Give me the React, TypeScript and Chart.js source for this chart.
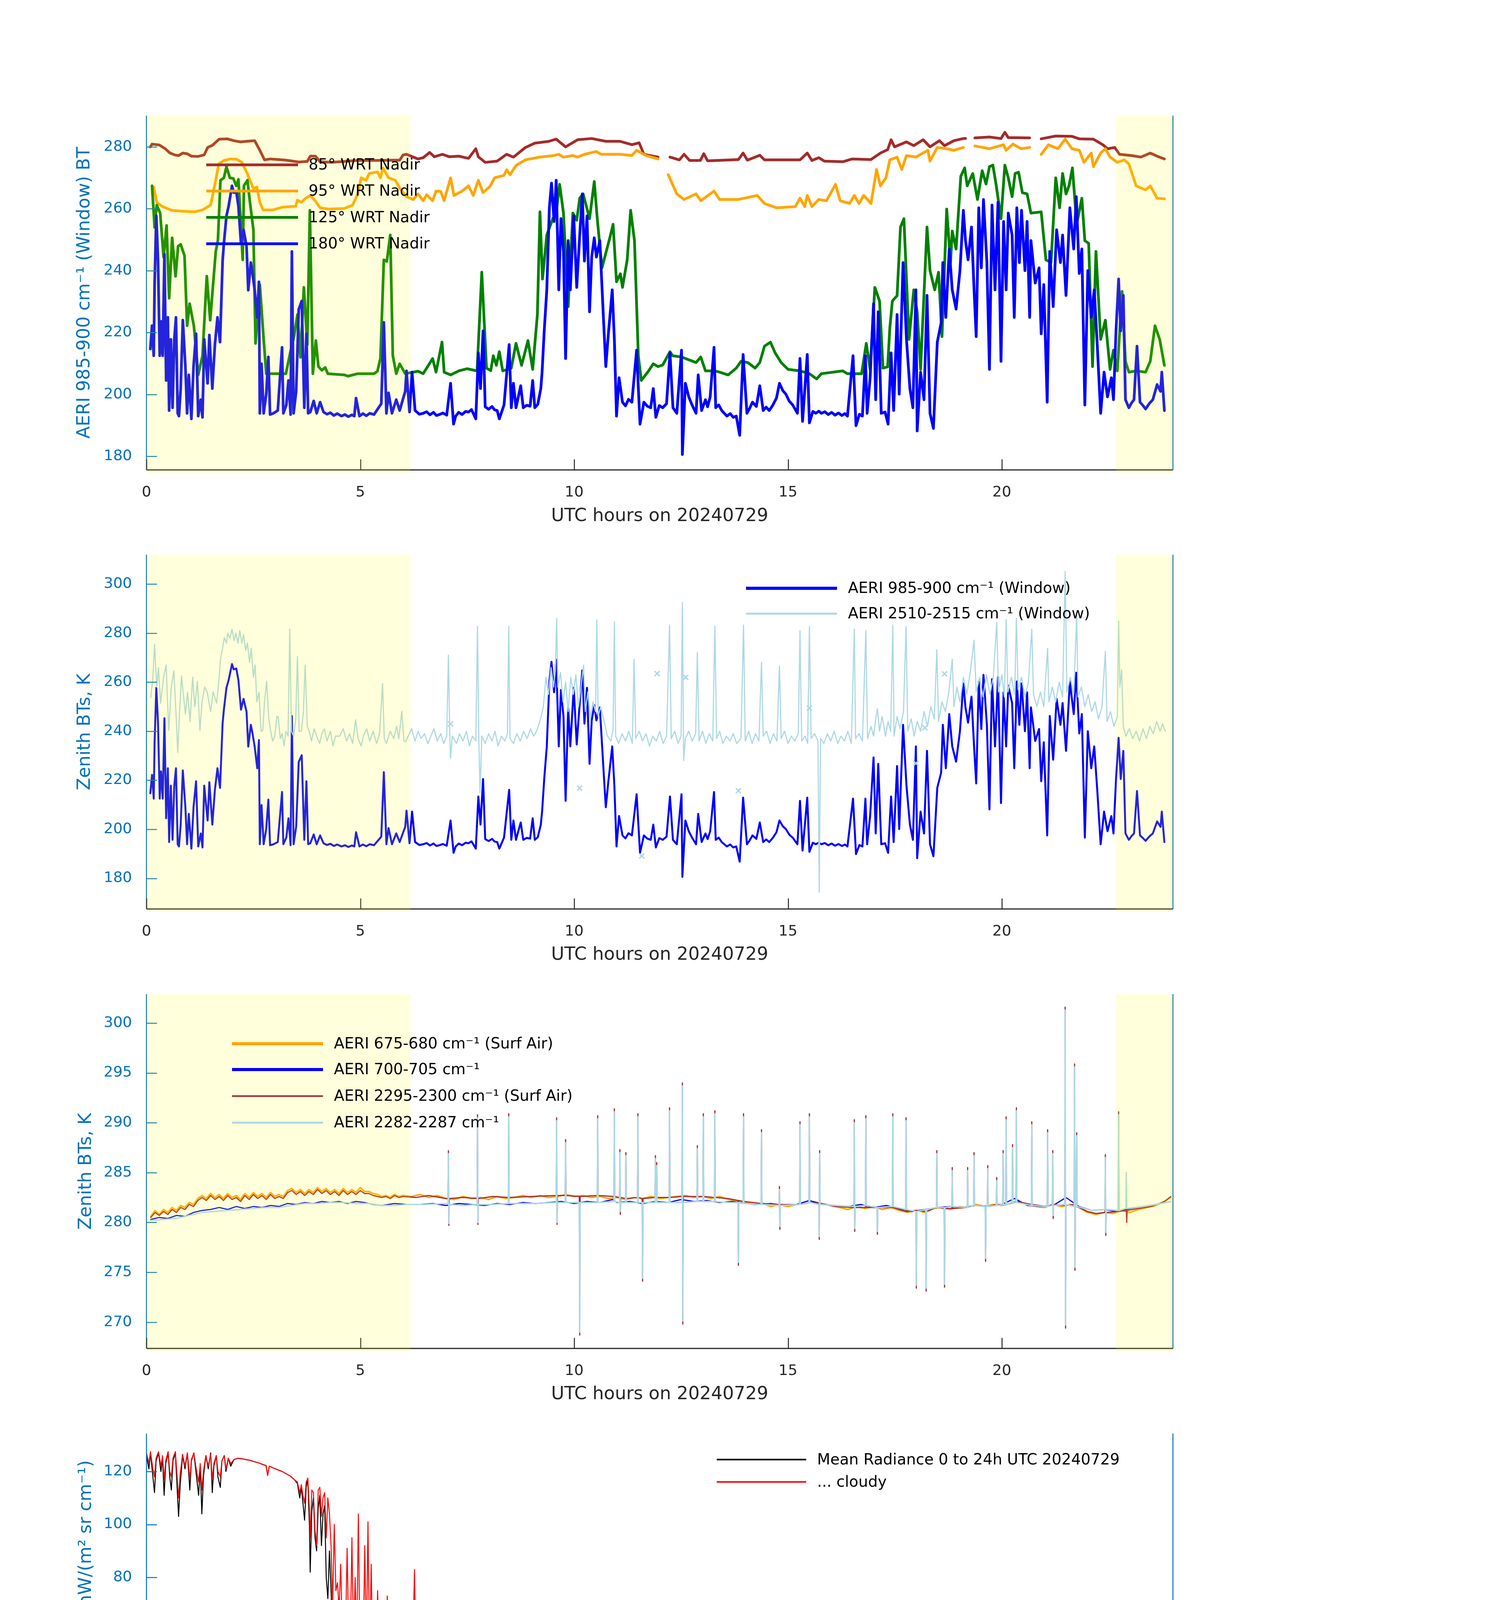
import React, { useEffect, useRef } from "react";
import { Chart, registerables } from "chart.js";
Chart.register(...registerables);

type Pt = [number, number | null];

// ---------------- Panel 1 : AERI window BT at several scan angles ----------------
const bt85: Pt[] = [[0.09,280],[0.13,280.9],[0.3,280.6],[0.44,279.4],[0.55,278],[0.66,277.4],[0.75,277.2],[0.85,278],[0.95,277.8],[1.05,277],[1.2,276.9],[1.35,277.4],[1.43,279.8],[1.54,280.5],[1.7,282.5],[1.89,282.6],[2.04,282],[2.2,281.6],[2.34,281.8],[2.53,282],[2.65,278.9],[2.76,275.8],[2.9,276.1],[3.26,275.7],[3.56,275.1],[3.76,275.3],[3.83,277],[3.95,277],[4.06,275.2],[4.33,275],[4.63,275.3],[4.94,275.6],[5.32,275.6],[5.78,275.7],[5.92,275.7],[6.0,277.4],[6.08,277.6],[6.24,276.7],[6.35,276.1],[6.47,276.5],[6.62,278.2],[6.73,276.8],[6.92,277.6],[7.08,276.8],[7.3,277],[7.53,276.3],[7.7,279.4],[7.76,276.8],[7.92,275],[8.2,275.4],[8.42,277.6],[8.58,276.7],[8.86,279.8],[9.08,281.2],[9.41,281.8],[9.58,282.5],[9.8,280],[10.08,282.3],[10.41,282.7],[10.74,281.8],[11.07,281.8],[11.35,280.7],[11.52,281.3],[11.63,277.6],[11.96,276.7],[12.08,null],[12.24,276.7],[12.46,275.8],[12.57,277.6],[12.7,275.6],[12.95,275.6],[13.03,277.8],[13.12,275.5],[13.84,275.9],[13.95,278],[14.05,275.7],[14.34,277.3],[14.45,275.8],[15.28,275.8],[15.45,278],[15.56,275.6],[15.72,276.5],[15.85,275.4],[16.28,275.2],[16.5,276.1],[16.94,275.9],[17.16,278],[17.33,279.1],[17.41,282.3],[17.49,280],[17.77,281.6],[17.94,280.4],[18.16,282.3],[18.32,280],[18.54,282],[18.66,280.4],[18.88,282],[19.1,282.7],[19.15,282.7],[19.22,null],[19.37,282.9],[19.71,283.2],[19.98,282.7],[20.07,284.7],[20.15,283],[20.65,282.9],[20.78,null],[20.92,282.6],[21.26,283.5],[21.64,283.4],[21.81,282.6],[22.14,282.5],[22.36,280.7],[22.47,279.4],[22.64,279.8],[22.75,277.6],[23.03,277.2],[23.25,276.7],[23.47,278],[23.63,277],[23.8,276.1]];

const bt95: Pt[] = [[0.17,267],[0.24,262.1],[0.36,260.8],[0.59,259.5],[0.85,259.2],[1.12,259],[1.31,259.6],[1.5,261.2],[1.62,269.2],[1.69,274.5],[1.81,275.6],[1.96,276.1],[2.11,276],[2.23,275],[2.34,271.9],[2.5,266.5],[2.58,267],[2.65,262.1],[2.73,259.6],[2.95,259.6],[3.18,260.5],[3.49,260.8],[3.53,262.8],[3.62,262.1],[3.72,263.4],[3.83,264.3],[3.95,262.5],[4.06,260.3],[4.25,259.9],[4.63,260.1],[4.82,261.2],[4.94,264.8],[5.02,270],[5.13,269.2],[5.21,271.4],[5.4,271.9],[5.47,270],[5.53,273.2],[5.66,270],[5.82,269.2],[5.93,266.5],[6.08,263.9],[6.24,263],[6.35,264.8],[6.47,262.6],[6.55,264.5],[6.69,262.6],[6.77,265.7],[6.88,265.6],[6.96,262.6],[7.11,270],[7.19,264.3],[7.38,265.7],[7.53,267.4],[7.64,264.3],[7.76,269.2],[7.87,265.2],[8.03,267.2],[8.14,270],[8.36,270.8],[8.42,272.6],[8.5,271],[8.64,274],[8.86,275.8],[9.19,276.7],[9.53,277.2],[9.64,277.6],[9.75,276.7],[9.97,277.2],[10.08,276.7],[10.24,277.6],[10.52,278.5],[10.63,277.6],[11.07,277.6],[11.35,277.2],[11.46,278.9],[11.68,277.2],[11.96,276.1],[12.08,null],[12.2,271],[12.4,264.8],[12.57,263],[12.85,264.8],[12.96,262.6],[13.27,265.7],[13.4,263],[13.84,263],[14.28,264.3],[14.45,261.7],[14.73,260.3],[15.17,260.7],[15.28,263.4],[15.39,260.7],[15.45,264.3],[15.56,260.7],[15.72,263],[15.9,262.6],[16.11,267.9],[16.22,262.6],[16.44,261.7],[16.55,264.3],[16.66,261.7],[16.77,264.3],[16.94,261.7],[17.07,272.7],[17.16,267.4],[17.29,270],[17.38,275.8],[17.55,276.7],[17.66,272.7],[17.77,277.2],[17.99,276.7],[18.27,278.9],[18.32,275.4],[18.49,279.8],[18.71,279.4],[18.88,278.9],[19.1,279.8],[19.22,null],[19.37,280.3],[19.71,279.4],[20.04,280.7],[20.1,278.9],[20.26,280.9],[20.45,279.4],[20.65,279.8],[20.78,null],[20.92,277.6],[21.09,280.7],[21.31,279.4],[21.48,282.5],[21.64,279.4],[21.81,278.9],[21.92,275],[22.09,278],[22.14,273.6],[22.31,278],[22.42,279.4],[22.53,276.7],[22.7,275],[22.86,275.8],[22.97,274.5],[23.14,267.4],[23.36,266.1],[23.47,267.4],[23.63,263.4],[23.8,263.2]];

const bt125: Pt[] = [[0.13,267.4],[0.19,254],[0.24,261.2],[0.32,258.6],[0.4,244.4],[0.47,254.6],[0.53,231.1],[0.6,250.6],[0.68,238.2],[0.74,247.9],[0.8,248.5],[0.89,244.8],[0.95,222.2],[1.01,229.3],[1.11,222],[1.21,206.3],[1.31,212.5],[1.41,238.2],[1.49,224],[1.62,246.2],[1.67,249.7],[1.73,269.2],[1.81,270],[1.87,273.6],[1.95,270],[2.03,269.8],[2.1,267.4],[2.15,269.5],[2.25,243.5],[2.28,267.5],[2.36,269.2],[2.42,262.1],[2.5,253.2],[2.55,216.5],[2.65,235.5],[2.74,217.8],[2.8,206.7],[3.26,206.7],[3.36,213.4],[3.45,218.7],[3.53,225.8],[3.6,212],[3.68,234.6],[3.76,216.1],[3.82,259.5],[3.89,206.7],[3.96,217.4],[4.02,209],[4.1,207.8],[4.18,208.7],[4.24,206.7],[4.63,206.3],[4.71,205.9],[4.94,206.7],[5.32,206.7],[5.4,207.5],[5.47,211.6],[5.55,243.5],[5.62,243],[5.7,251.5],[5.76,212.5],[5.84,206.7],[5.92,209.9],[6.05,206.7],[6.35,207.5],[6.47,206.7],[6.69,211.6],[6.77,207.2],[6.91,216.9],[6.96,207.2],[7.11,206.3],[7.3,207.6],[7.5,208.3],[7.73,207.6],[7.84,239.5],[7.95,208.5],[8.05,207.7],[8.11,212.5],[8.18,209.4],[8.25,213.8],[8.33,207.6],[8.53,208.5],[8.64,216.5],[8.77,209.4],[8.92,217.4],[9.03,208.1],[9.14,225.8],[9.2,259],[9.26,237.3],[9.36,251.5],[9.5,256.8],[9.58,258.6],[9.66,267.9],[9.75,258.6],[9.86,228.4],[9.97,258.6],[10.06,256.3],[10.13,263.4],[10.21,264.8],[10.36,256.8],[10.47,268.8],[10.54,256.8],[10.65,240.9],[10.85,251.5],[10.91,255],[10.99,236.4],[11.08,239],[11.13,234.6],[11.24,243.5],[11.32,259.5],[11.41,249.7],[11.5,212.5],[11.57,204.5],[11.74,207.6],[11.85,209.9],[11.96,209],[12.07,209.5],[12.24,213.8],[12.3,212.5],[12.51,212.1],[12.68,211.2],[12.85,210.3],[12.96,212.1],[13.07,207.6],[13.29,207.6],[13.4,207.2],[13.6,206.3],[13.79,208.5],[13.9,210.7],[14.06,210.3],[14.23,208.5],[14.34,210.3],[14.45,215.6],[14.59,216.9],[14.7,213.4],[14.84,210.3],[15.0,208.1],[15.28,207.6],[15.5,206.7],[15.67,205],[15.78,206.7],[16.28,207.6],[16.39,206.7],[16.72,206.7],[16.83,216.5],[16.92,208.1],[17.03,234.6],[17.14,230.2],[17.22,208.5],[17.33,208.9],[17.38,221.4],[17.44,230.2],[17.55,231.9],[17.63,254.1],[17.71,256.8],[17.83,217.8],[17.94,233.8],[18.02,226.7],[18.1,208.1],[18.25,254.1],[18.32,240],[18.43,233.8],[18.52,239.5],[18.6,218.7],[18.71,259.9],[18.8,242.6],[18.84,252.8],[18.93,247],[19.04,270.5],[19.13,273.2],[19.19,267.4],[19.32,271.4],[19.43,263],[19.54,272.3],[19.63,268],[19.71,273.6],[19.79,274.1],[19.87,267.4],[19.98,256.8],[20.07,274.1],[20.15,270],[20.24,263.9],[20.31,271.4],[20.39,271.8],[20.48,265.2],[20.59,264.8],[20.68,258.6],[20.92,259],[21.03,243.5],[21.15,242.6],[21.26,270],[21.35,260.3],[21.42,271.4],[21.5,264.8],[21.57,267.4],[21.65,273.2],[21.75,255],[21.87,263.4],[21.94,249.7],[22.03,248.8],[22.12,209],[22.2,246.2],[22.31,217.8],[22.42,224],[22.53,208.1],[22.61,214.3],[22.7,207.6],[22.81,233.3],[22.89,210.7],[22.97,207.2],[23.14,207.6],[23.36,207.2],[23.47,210.7],[23.58,222.2],[23.69,217.8],[23.8,209.4]];

const bt180: Pt[] = [[0.09,214.7],[0.13,222.2],[0.17,212.5],[0.19,235.5],[0.23,257.7],[0.27,243.5],[0.31,212.5],[0.34,223.6],[0.38,212.5],[0.42,245.3],[0.46,204.5],[0.5,224.9],[0.53,194.8],[0.57,217.8],[0.61,195.7],[0.65,217.8],[0.69,224.9],[0.73,193.9],[0.76,193],[0.8,201.9],[0.85,224],[0.91,209],[0.95,193.9],[0.99,206.3],[1.05,192.1],[1.1,209],[1.16,219.6],[1.21,193],[1.27,198.3],[1.31,192.6],[1.35,217.8],[1.43,203.6],[1.47,219.2],[1.54,201.9],[1.6,216.1],[1.66,224.9],[1.72,216.9],[1.78,243.1],[1.81,248.8],[1.87,257.7],[1.92,260.8],[2.0,267.4],[2.04,265.2],[2.1,265.6],[2.15,260.8],[2.21,248.8],[2.27,253.2],[2.34,247.9],[2.38,233.7],[2.44,242.6],[2.48,239.1],[2.53,233.7],[2.59,224.9],[2.63,236.4],[2.65,193.9],[2.69,209.9],[2.74,193.9],[2.8,200.1],[2.85,212.1],[2.89,193.5],[2.97,193.9],[3.07,194.8],[3.17,215.2],[3.2,193.9],[3.27,196.6],[3.32,204.5],[3.37,193.5],[3.4,246.2],[3.44,193.9],[3.5,201],[3.56,227.5],[3.63,230.2],[3.69,195.7],[3.74,219.6],[3.78,193.9],[3.83,194.3],[3.91,197.9],[3.98,193.9],[4.06,197.5],[4.14,194.3],[4.22,193.6],[4.3,194.1],[4.38,193.2],[4.46,193.8],[4.56,193],[4.64,193.5],[4.72,192.8],[4.8,193.4],[4.86,193],[4.9,198.8],[4.98,193],[5.06,193.8],[5.14,193.1],[5.22,193.9],[5.32,193.5],[5.49,197],[5.55,223.3],[5.61,193.9],[5.66,200.5],[5.74,193.9],[5.84,198.3],[5.92,194.8],[6.05,201],[6.08,207.6],[6.15,194.3],[6.21,207.2],[6.28,194.8],[6.38,193.6],[6.47,193.9],[6.55,194.4],[6.63,193.4],[6.71,194.2],[6.78,193.2],[6.85,193.5],[6.93,194],[7.02,193.3],[7.11,203.6],[7.18,190.4],[7.23,193],[7.3,194.2],[7.38,193.5],[7.46,194.5],[7.53,194.3],[7.6,195.1],[7.7,192.1],[7.76,213.4],[7.81,201.9],[7.87,220.5],[7.92,196],[8.0,195.2],[8.08,196.1],[8.14,195],[8.2,194.8],[8.25,192.1],[8.36,196.6],[8.48,216.1],[8.53,195.7],[8.58,203.6],[8.64,195.7],[8.75,202.8],[8.81,195.7],[8.89,196.5],[8.97,196.2],[9.03,204.5],[9.08,195.7],[9.15,196.8],[9.22,201.9],[9.25,207.2],[9.3,220.5],[9.36,233.8],[9.42,260.3],[9.47,268.3],[9.53,255.9],[9.58,269.2],[9.64,233.8],[9.69,256.8],[9.75,246.2],[9.8,211.6],[9.86,249.7],[9.91,233.8],[9.99,257.7],[10.06,234.6],[10.13,251.5],[10.19,264.8],[10.24,243.1],[10.3,257.7],[10.36,226.7],[10.41,244.4],[10.47,250.6],[10.52,244.4],[10.6,249.7],[10.69,223.1],[10.74,209],[10.8,219.6],[10.89,233.8],[10.94,217.8],[10.99,193],[11.05,205.4],[11.13,197.5],[11.2,196.3],[11.27,198.4],[11.35,197.5],[11.46,214.3],[11.54,190.4],[11.63,197.5],[11.71,196.2],[11.79,195.7],[11.85,201.9],[11.91,192.6],[11.99,196.4],[12.07,195.7],[12.16,197],[12.24,213.4],[12.31,195.7],[12.4,193.9],[12.51,214.3],[12.53,180.6],[12.6,203.6],[12.68,199.2],[12.76,196.5],[12.85,193.9],[12.9,206.3],[12.98,194.8],[13.07,198.3],[13.12,196],[13.18,199.2],[13.27,215.2],[13.31,195.7],[13.38,196.6],[13.45,194.8],[13.57,193],[13.65,193.8],[13.72,192.6],[13.79,193],[13.87,186.8],[13.95,212.9],[14.04,193.9],[14.1,195.4],[14.17,197.5],[14.26,196.1],[14.34,202.8],[14.42,194.8],[14.49,195.9],[14.56,194.8],[14.64,196.4],[14.73,198.8],[14.8,203.6],[14.88,201.2],[14.95,200.1],[15.03,197.8],[15.11,196.6],[15.22,193.9],[15.28,211.6],[15.34,191.3],[15.45,212.9],[15.5,190.8],[15.58,194.5],[15.65,193.9],[15.72,194.6],[15.78,193.9],[15.86,194.4],[15.94,193.5],[16.02,194.2],[16.1,193.3],[16.18,194],[16.26,193.2],[16.33,193.8],[16.39,193],[16.52,212.5],[16.59,189.9],[16.67,193.6],[16.74,193],[16.81,212.5],[16.85,193.9],[16.92,205.4],[17.0,229.3],[17.05,198.3],[17.11,226.7],[17.18,193.9],[17.27,194.3],[17.34,190.4],[17.41,213.4],[17.47,194.8],[17.55,225.8],[17.6,200.1],[17.69,242.6],[17.77,217.8],[17.85,201.9],[17.92,195.7],[17.99,233.8],[18.02,188.2],[18.1,207.2],[18.18,198.3],[18.25,232],[18.32,193.9],[18.4,189],[18.49,216.9],[18.58,223.1],[18.62,242.6],[18.69,224.9],[18.77,247],[18.84,233.8],[18.93,227.6],[19.02,240],[19.1,259.5],[19.15,249.7],[19.21,243.5],[19.29,254.1],[19.35,233.8],[19.4,218.7],[19.46,260.3],[19.52,240.9],[19.57,263],[19.65,242.6],[19.71,208.1],[19.77,261.2],[19.84,233.8],[19.91,262.1],[19.98,210.7],[20.04,255.9],[20.1,233.8],[20.15,258.6],[20.24,251.5],[20.29,224.9],[20.35,260.3],[20.41,242.6],[20.46,259.5],[20.54,240],[20.59,255.9],[20.65,224.9],[20.68,249.7],[20.78,236],[20.87,240.9],[20.92,219.6],[20.98,235.5],[21.06,197.5],[21.12,246.2],[21.2,228.4],[21.28,253.2],[21.37,242.6],[21.42,251.5],[21.5,232],[21.59,260.3],[21.68,247],[21.74,263.9],[21.81,239.1],[21.87,247],[21.94,196.6],[22.01,240],[22.09,224.9],[22.16,233.8],[22.23,216.1],[22.31,193.9],[22.39,207.2],[22.47,199.2],[22.56,205.4],[22.61,198.3],[22.67,220.5],[22.73,237.3],[22.78,220.5],[22.84,232],[22.89,198.3],[22.97,195.7],[23.03,197.2],[23.09,198.3],[23.16,215.6],[23.23,197.5],[23.3,196.4],[23.36,195.3],[23.45,197.1],[23.53,198.3],[23.63,203.2],[23.71,201],[23.74,207.2],[23.8,194.8]];

// ---------------- Panel 2 : 2510-2515 window channel ----------------
const bt2510: Pt[] = [[0.1,253.7],[0.15,262],[0.19,275.4],[0.24,258],[0.28,265.9],[0.33,251.4],[0.4,262],[0.46,267],[0.52,240.3],[0.58,258],[0.64,264.6],[0.7,244],[0.73,231.3],[0.78,250],[0.82,262.6],[0.88,252],[0.91,247],[0.96,255.9],[1.02,244],[1.08,262],[1.13,250],[1.19,260.4],[1.25,240.3],[1.3,252],[1.36,258],[1.42,255.9],[1.5,248],[1.56,256],[1.64,251.4],[1.7,262],[1.73,269.3],[1.78,274],[1.82,278.2],[1.87,276],[1.9,280],[1.95,278],[2.0,281.6],[2.05,277],[2.09,280],[2.14,276],[2.18,281],[2.23,276],[2.27,279.3],[2.32,273],[2.36,276],[2.41,268],[2.45,273.8],[2.5,262],[2.54,267],[2.58,252],[2.63,255.9],[2.68,240],[2.72,240.3],[2.76,252],[2.81,260.4],[2.86,245],[2.9,240.3],[2.95,236],[3.0,238],[3.05,246],[3.08,245.9],[3.13,237],[3.17,239],[3.22,234],[3.26,240],[3.31,238],[3.35,281.6],[3.39,240],[3.44,238],[3.49,245],[3.53,270.4],[3.57,240],[3.62,240],[3.67,248],[3.71,267],[3.76,242],[3.8,240.3],[3.86,236],[3.92,241],[3.98,238],[4.05,235],[4.1,239],[4.16,241],[4.22,236],[4.3,240],[4.36,234],[4.42,238],[4.52,238],[4.6,241],[4.68,236],[4.75,239],[4.82,235],[4.89,244.7],[4.95,237],[5.02,234],[5.07,238],[5.15,241],[5.22,236],[5.3,240],[5.38,235],[5.45,239],[5.52,259.4],[5.56,237],[5.61,235],[5.7,240],[5.78,237],[5.85,242],[5.9,237],[5.97,248.1],[6.02,236],[6.06,235.8],[6.12,238],[6.2,241],[6.28,236],[6.35,240],[6.42,237],[6.5,239],[6.58,235],[6.65,238],[6.72,241],[6.8,236],[6.88,239],[6.95,235],[7.02,238],[7.06,271],[7.09,240],[7.11,229],[7.15,238],[7.25,235],[7.32,239],[7.4,236],[7.48,240],[7.55,234],[7.62,238],[7.7,236],[7.74,282.7],[7.77,237],[7.8,215],[7.84,238],[7.92,235],[8.0,239],[8.08,236],[8.15,240],[8.22,234],[8.3,238],[8.38,236],[8.44,239],[8.47,282.9],[8.5,237],[8.58,235],[8.66,239],[8.74,236],[8.82,240],[8.9,237],[8.98,241],[9.05,238],[9.12,240],[9.2,244],[9.28,250],[9.34,262],[9.4,255],[9.46,266],[9.52,258],[9.56,265],[9.59,286],[9.62,258],[9.68,264],[9.74,252],[9.8,260],[9.86,248],[9.92,262],[9.98,255],[10.04,263],[10.1,250],[10.16,258],[10.22,267],[10.26,248],[10.32,256],[10.38,245],[10.44,252],[10.5,248],[10.53,285.4],[10.56,246],[10.62,250],[10.7,244],[10.78,238],[10.86,236],[10.91,241],[10.94,284.7],[10.97,238],[11.04,235],[11.12,239],[11.2,236],[11.28,240],[11.36,235],[11.4,269.3],[11.44,237],[11.52,240],[11.6,236],[11.68,239],[11.76,234],[11.84,238],[11.92,236],[12.0,240],[12.08,235],[12.16,238],[12.23,283.3],[12.27,237],[12.35,240],[12.43,235],[12.5,238],[12.53,292.5],[12.56,228],[12.6,237],[12.68,240],[12.76,236],[12.84,239],[12.88,272.1],[12.92,236],[13.0,240],[13.08,235],[13.16,239],[13.24,236],[13.29,282.9],[13.33,237],[13.4,240],[13.48,235],[13.56,238],[13.64,236],[13.72,239],[13.8,235],[13.9,237],[13.96,283.3],[14.0,236],[14.08,240],[14.16,235],[14.24,239],[14.32,236],[14.38,268.2],[14.42,238],[14.5,240],[14.58,235],[14.66,239],[14.74,236],[14.8,266.5],[14.84,237],[14.92,240],[15.0,235],[15.08,238],[15.16,236],[15.24,239],[15.28,281],[15.32,236],[15.4,238],[15.46,235],[15.5,282.7],[15.54,237],[15.62,239],[15.7,236],[15.73,174.4],[15.76,237],[15.84,235],[15.92,239],[16.0,236],[16.08,240],[16.16,235],[16.24,238],[16.32,236],[16.4,240],[16.48,235],[16.55,281.6],[16.58,237],[16.66,239],[16.74,236],[16.82,281],[16.86,237],[16.94,242],[17.0,238],[17.05,245],[17.09,249.2],[17.14,240],[17.2,246],[17.28,238],[17.34,244],[17.4,240],[17.45,283.3],[17.48,238],[17.55,246],[17.62,241],[17.7,248],[17.76,282.7],[17.8,240],[17.88,245],[17.95,238],[18.02,244],[18.1,240],[18.18,248],[18.26,242],[18.34,250],[18.42,245],[18.48,273.2],[18.52,244],[18.6,252],[18.68,248],[18.76,256],[18.84,269.3],[18.88,250],[18.95,258],[19.02,252],[19.1,262],[19.18,255],[19.26,264],[19.35,277.1],[19.4,256],[19.48,262],[19.56,254],[19.64,263],[19.72,255],[19.8,262],[19.88,284.4],[19.92,256],[20.0,263],[20.06,254],[20.1,285.5],[20.14,256],[20.22,262],[20.3,255],[20.34,286],[20.38,257],[20.46,262],[20.54,254],[20.62,260],[20.7,281.6],[20.74,255],[20.82,250],[20.9,256],[20.98,250],[21.07,273.8],[21.1,252],[21.18,258],[21.26,252],[21.34,260],[21.42,254],[21.48,305.2],[21.52,256],[21.6,262],[21.68,255],[21.75,287.2],[21.78,254],[21.86,258],[21.94,250],[22.02,255],[22.1,248],[22.18,252],[22.26,245],[22.34,250],[22.42,272.6],[22.46,244],[22.54,248],[22.62,242],[22.7,246],[22.73,284.9],[22.76,258],[22.8,265],[22.84,242],[22.9,238],[22.98,241],[23.06,237],[23.14,240],[23.22,236],[23.3,241],[23.38,237],[23.46,242],[23.54,239],[23.62,244],[23.7,240],[23.76,243],[23.82,240]];

const bt2510Isolated: Pt[] = [[7.11,243],[10.13,216.8],[11.58,189.1],[11.94,263.5],[12.61,262],[13.84,215.7],[15.5,249.4],[17.99,226.9],[18.2,241.4],[18.66,263.4]];

// ---------------- Panel 3 : surface-air channels ----------------
const bt675: Pt[] = [[0.1,280.6],[0.2,281.2],[0.3,280.8],[0.4,281.3],[0.5,281],[0.6,281.5],[0.7,281.2],[0.8,281.7],[0.9,281.5],[1.0,282],[1.1,281.8],[1.2,282.4],[1.3,282.7],[1.4,282.4],[1.5,282.9],[1.6,282.5],[1.7,282.8],[1.8,282.4],[1.9,282.9],[2.0,282.5],[2.1,282.7],[2.2,282.3],[2.3,282.9],[2.4,282.5],[2.5,283],[2.6,282.6],[2.7,282.9],[2.8,282.5],[2.9,283],[3.0,282.6],[3.1,282.8],[3.2,282.6],[3.3,283.2],[3.4,283.4],[3.5,283],[3.6,283.3],[3.7,282.9],[3.8,283.3],[3.9,283],[4.0,283.5],[4.1,283.1],[4.2,283.4],[4.3,283],[4.4,283.3],[4.5,282.9],[4.6,283.4],[4.7,283],[4.8,283.3],[4.9,283],[5.0,283.5],[5.1,283.1],[5.2,283.1],[5.3,282.9],[5.4,282.8],[5.5,282.6],[5.6,282.7],[5.7,282.5],[5.8,282.8],[5.9,282.6],[6.0,282.7],[6.2,282.6],[6.4,282.8],[6.6,282.5],[6.8,282.7],[7.0,282.4],[7.2,282.3],[7.4,282.6],[7.6,282.4],[7.8,282.5],[8.0,282.3],[8.2,282.6],[8.4,282.4],[8.6,282.5],[8.8,282.7],[9.0,282.5],[9.2,282.7],[9.4,282.5],[9.6,282.6],[9.8,282.8],[10.0,282.6],[10.2,282.7],[10.4,282.5],[10.6,282.6],[10.8,282.4],[11.0,282.5],[11.2,282.3],[11.4,282.5],[11.6,282.4],[11.8,282.6],[12.0,282.4],[12.2,282.5],[12.4,282.6],[12.6,282.7],[12.8,282.5],[13.0,282.6],[13.2,282.4],[13.4,282.6],[13.6,282.3],[13.8,282.2],[14.0,282.0],[14.2,281.8],[14.4,281.9],[14.6,281.6],[14.8,281.8],[15.0,281.6],[15.2,281.8],[15.4,281.9],[15.6,282.1],[15.8,281.9],[16.0,281.7],[16.2,281.5],[16.4,281.3],[16.6,281.6],[16.8,281.4],[17.0,281.6],[17.2,281.3],[17.4,281.5],[17.6,281.2],[17.8,281.0],[18.0,281.2],[18.2,281.0],[18.4,281.4],[18.6,281.5],[18.8,281.3],[19.0,281.6],[19.2,281.5],[19.4,281.8],[19.6,281.6],[19.8,281.8],[20.0,281.7],[20.2,281.9],[20.4,282.1],[20.6,281.8],[20.8,281.6],[21.0,281.5],[21.2,281.8],[21.4,281.6],[21.6,281.8],[21.8,281.5],[22.0,281.0],[22.2,280.8],[22.4,281.0],[22.6,280.9],[22.8,281.2],[23.0,281.0],[23.2,281.3],[23.4,281.5],[23.6,281.7],[23.8,282.1],[23.95,282.5]];

const bt700: Pt[] = [[0.1,280.3],[0.3,280.5],[0.5,280.4],[0.7,280.7],[0.9,280.6],[1.1,281],[1.3,281.2],[1.5,281.3],[1.7,281.5],[1.9,281.3],[2.1,281.6],[2.3,281.4],[2.5,281.6],[2.7,281.5],[2.9,281.7],[3.1,281.6],[3.3,281.9],[3.5,281.8],[3.7,282],[3.9,281.9],[4.1,282.1],[4.3,282],[4.5,282.1],[4.7,281.9],[4.9,282.1],[5.1,282],[5.3,281.8],[5.5,281.7],[5.8,281.9],[6.1,281.8],[6.4,281.8],[6.7,281.9],[7.0,281.7],[7.3,281.9],[7.6,281.8],[7.9,281.7],[8.2,281.9],[8.5,281.8],[8.8,282],[9.1,281.9],[9.4,282],[9.7,282.1],[10.0,281.9],[10.3,282.1],[10.6,282],[10.9,282.3],[11.0,282.0],[11.3,282.1],[11.6,281.9],[11.9,282.1],[12.2,282],[12.5,282.3],[12.8,282.1],[13.1,282.2],[13.4,282],[13.7,282.1],[14.0,281.9],[14.3,281.8],[14.6,281.9],[14.9,281.7],[15.2,281.8],[15.5,282.2],[15.8,281.8],[16.1,281.7],[16.4,281.6],[16.7,281.8],[17.0,281.5],[17.3,281.7],[17.6,281.4],[17.9,281.1],[18.2,281.3],[18.5,281.5],[18.8,281.6],[19.1,281.5],[19.4,281.7],[19.7,281.6],[20.0,281.8],[20.3,282.4],[20.6,281.7],[20.9,281.6],[21.2,281.7],[21.5,282.5],[21.8,281.6],[22.1,281.2],[22.4,281.3],[22.7,281.1],[23.0,281.4],[23.3,281.6],[23.6,281.8],[23.95,282.1]];

const bt2295: Pt[] = [[0.1,280.5],[0.2,281],[0.3,280.7],[0.4,281.1],[0.5,280.8],[0.6,281.3],[0.7,281],[0.8,281.5],[0.9,281.3],[1.0,281.8],[1.1,281.6],[1.2,282.2],[1.3,282.5],[1.4,282.2],[1.5,282.7],[1.6,282.3],[1.7,282.6],[1.8,282.2],[1.9,282.7],[2.0,282.3],[2.1,282.5],[2.2,282.1],[2.3,282.7],[2.4,282.3],[2.5,282.8],[2.6,282.4],[2.7,282.7],[2.8,282.3],[2.9,282.8],[3.0,282.4],[3.1,282.6],[3.2,282.4],[3.3,283],[3.4,283.2],[3.5,282.8],[3.6,283.1],[3.7,282.7],[3.8,283.1],[3.9,282.8],[4.0,283.3],[4.1,282.9],[4.2,283.2],[4.3,282.8],[4.4,283.1],[4.5,282.7],[4.6,283.2],[4.7,282.8],[4.8,283.1],[4.9,282.8],[5.0,283.2],[5.1,282.9],[5.2,282.9],[5.3,282.7],[5.4,282.6],[5.5,282.5],[5.6,282.6],[5.7,282.4],[5.8,282.7],[5.9,282.5],[6.0,282.6],[6.3,282.5],[6.6,282.7],[7.0,282.4],[7.05,282.4],[7.06,287.2],[7.07,279.7],[7.08,282.4],[7.4,282.5],[7.73,282.4],[7.74,290.8],[7.75,279.8],[7.76,282.4],[8.1,282.6],[8.46,282.5],[8.47,290.9],[8.48,282.5],[9.0,282.6],[9.58,282.7],[9.59,290.5],[9.6,279.8],[9.61,282.7],[9.79,282.7],[9.8,288.3],[9.81,282.7],[10.12,282.6],[10.13,268.7],[10.14,282.6],[10.54,282.7],[10.55,290.7],[10.56,282.7],[10.93,282.6],[10.94,291.4],[10.95,282.6],[11.06,282.5],[11.07,287.3],[11.08,280.8],[11.09,282.5],[11.2,282.4],[11.21,287],[11.22,282.4],[11.48,282.5],[11.49,290.9],[11.5,282.5],[11.59,282.4],[11.6,274.1],[11.61,282.4],[11.89,282.5],[11.9,286.7],[11.91,282.5],[11.93,286],[11.94,282.5],[12.22,282.5],[12.23,291.5],[12.24,282.5],[12.52,282.6],[12.53,294],[12.54,269.8],[12.55,282.6],[12.87,282.6],[12.88,287.7],[12.89,282.6],[13.01,282.6],[13.02,290.9],[13.03,282.6],[13.28,282.5],[13.29,291.2],[13.3,282.5],[13.6,282.4],[13.83,282.2],[13.84,275.7],[13.85,282.2],[13.95,282.1],[13.96,290.9],[13.97,282.1],[14.37,281.9],[14.38,289.3],[14.39,281.9],[14.79,281.8],[14.8,283.6],[14.81,279.3],[14.82,281.8],[15.27,281.8],[15.28,290.1],[15.29,281.8],[15.49,282],[15.5,290.9],[15.51,282],[15.72,281.9],[15.73,278.3],[15.74,287.2],[15.75,281.9],[16.1,281.6],[16.54,281.5],[16.55,290.3],[16.56,279.1],[16.57,281.5],[16.81,281.5],[16.82,290.7],[16.83,281.5],[17.08,281.5],[17.09,278.8],[17.1,281.5],[17.44,281.5],[17.45,290.9],[17.46,281.5],[17.75,281.1],[17.76,290.5],[17.77,281.1],[17.99,281.2],[18.0,273.4],[18.01,281.2],[18.22,281.1],[18.23,273.1],[18.24,281.1],[18.47,281.5],[18.48,287.2],[18.49,281.5],[18.65,281.4],[18.66,273.5],[18.67,281.4],[18.83,281.4],[18.84,285.5],[18.85,281.4],[19.19,281.5],[19.2,285.5],[19.21,281.5],[19.34,281.7],[19.35,287],[19.36,281.7],[19.61,281.6],[19.62,276.1],[19.63,281.6],[19.66,281.6],[19.67,285.7],[19.68,281.6],[19.87,281.8],[19.88,284.5],[19.89,281.8],[20.02,281.8],[20.03,287.2],[20.04,281.8],[20.09,281.8],[20.1,290.6],[20.11,281.8],[20.24,282],[20.25,287.8],[20.26,282],[20.33,282.1],[20.34,291.5],[20.35,282.1],[20.69,281.8],[20.7,290.1],[20.71,281.8],[21.06,281.6],[21.07,289.3],[21.08,281.6],[21.18,281.8],[21.19,287.2],[21.2,280.4],[21.21,281.8],[21.47,281.7],[21.48,301.6],[21.49,269.4],[21.5,281.7],[21.69,281.8],[21.7,295.9],[21.71,275.2],[21.72,281.8],[21.74,281.6],[21.75,289],[21.76,281.6],[22.0,281.1],[22.2,280.9],[22.41,281],[22.42,286.8],[22.43,278.7],[22.44,281],[22.72,281.1],[22.73,291.1],[22.74,281.1],[22.91,281.2],[22.92,280],[22.93,281.2],[23.2,281.4],[23.5,281.6],[23.8,282.1],[23.95,282.6]];

const bt2282: Pt[] = [[0.1,280.2],[0.4,280.3],[0.7,280.4],[1.0,280.7],[1.3,281],[1.6,281.1],[1.9,281.2],[2.2,281.3],[2.5,281.4],[2.8,281.5],[3.1,281.5],[3.4,281.7],[3.7,281.9],[4.0,281.9],[4.3,282],[4.6,282],[4.9,281.9],[5.2,281.9],[5.5,281.7],[5.8,281.7],[6.1,281.8],[6.5,281.8],[7.0,281.9],[7.05,281.9],[7.06,286.9],[7.07,279.9],[7.08,281.8],[7.4,281.7],[7.73,281.8],[7.74,290.5],[7.75,280],[7.76,281.8],[8.1,281.8],[8.46,281.9],[8.47,290.6],[8.48,281.9],[9.0,281.9],[9.58,282],[9.59,290.2],[9.6,280],[9.61,282],[9.79,282],[9.8,288],[9.81,282],[10.12,282],[10.13,269],[10.14,282],[10.54,282],[10.55,290.4],[10.56,282],[10.93,282.1],[10.94,291.1],[10.95,282.1],[11.06,282],[11.07,287],[11.08,281.1],[11.09,282],[11.2,282],[11.21,286.7],[11.22,282],[11.48,282],[11.49,290.6],[11.5,282],[11.59,282],[11.6,274.4],[11.61,282],[11.89,282],[11.9,286.4],[11.91,282],[11.93,285.7],[11.94,282],[12.22,282],[12.23,291.2],[12.24,282],[12.52,282],[12.53,293.7],[12.54,270.1],[12.55,282],[12.87,282.1],[12.88,287.4],[12.89,282.1],[13.01,282.1],[13.02,290.6],[13.03,282.1],[13.28,282.1],[13.29,290.9],[13.3,282.1],[13.6,282],[13.83,282],[13.84,276],[13.85,282],[13.95,281.9],[13.96,290.6],[13.97,281.9],[14.37,281.8],[14.38,289],[14.39,281.8],[14.79,281.7],[14.8,283.3],[14.81,279.6],[14.82,281.7],[15.27,281.8],[15.28,289.8],[15.29,281.8],[15.49,282],[15.5,290.6],[15.51,282],[15.72,281.8],[15.73,278.6],[15.74,286.9],[15.75,281.8],[16.1,281.7],[16.54,281.6],[16.55,290],[16.56,279.4],[16.57,281.6],[16.81,281.7],[16.82,290.4],[16.83,281.7],[17.08,281.5],[17.09,279.1],[17.1,281.5],[17.44,281.6],[17.45,290.6],[17.46,281.6],[17.75,281.3],[17.76,290.2],[17.77,281.3],[17.99,281.1],[18.0,273.7],[18.01,281.1],[18.22,281.3],[18.23,273.4],[18.24,281.3],[18.47,281.5],[18.48,286.9],[18.49,281.5],[18.65,281.5],[18.66,273.8],[18.67,281.5],[18.83,281.6],[18.84,285.2],[18.85,281.6],[19.19,281.5],[19.2,285.2],[19.21,281.5],[19.34,281.7],[19.35,286.7],[19.36,281.7],[19.61,281.6],[19.62,276.4],[19.63,281.6],[19.66,281.6],[19.67,285.4],[19.68,281.6],[19.87,281.7],[19.88,284.2],[19.89,281.7],[20.02,281.8],[20.03,286.9],[20.04,281.8],[20.09,281.8],[20.1,290.3],[20.11,281.8],[20.24,282],[20.25,287.5],[20.26,282],[20.33,282],[20.34,291.2],[20.35,282],[20.69,281.7],[20.7,289.8],[20.71,281.7],[21.06,281.6],[21.07,289],[21.08,281.6],[21.18,281.7],[21.19,286.9],[21.2,280.7],[21.21,281.7],[21.47,281.8],[21.48,301.3],[21.49,269.7],[21.5,281.8],[21.69,281.6],[21.7,295.6],[21.71,275.5],[21.72,281.6],[21.74,281.6],[21.75,288.7],[21.76,281.6],[22.1,281.2],[22.41,281.3],[22.42,286.5],[22.43,279],[22.44,281.3],[22.72,281.2],[22.73,290.8],[22.74,281.2],[22.9,281.4],[22.91,285],[22.92,281.4],[23.3,281.6],[23.6,281.8],[23.95,282.1]];

// ---------------- Panel 4 : mean radiance 520-1800 cm-1 ----------------
const radAll1: Pt[] = [[521,126],[524,121],[526,127],[529,118],[531,112],[533,124],[536,127],[539,120],[541,125],[543,111],[545,123],[548,127],[550,118],[552,113],[554,124],[557,127],[559,115],[561,103],[563,115],[566,126],[569,121],[572,127],[575,113],[577,124],[580,127],[583,119],[586,111],[588,122],[590,104],[592,118],[595,126],[598,121],[601,127],[603,112],[605,122],[608,126],[610,118],[613,114],[615,124],[618,126],[620,120],[623,125],[626,122],[630,124.5],[635,125],[640,124.8],[650,124.2],[660,123.3],[670,122.2],[672,118.5],[674,122],[680,121.2],[690,120],[700,118.3],[705,117],[709,115.5],[712,110],[714,114],[716,108],[718,101.6],[720,114],[722,117],[724,100],[725,82],[727,105],[729,110],[731,95],[733,90],[735,106],[737,111],[739,92],[741,104],[743,107],[745,80],[747,72],[749,90],[751,75],[753,57],[755,68],[757,46],[759,52],[761,40],[763,55],[765,37],[767,48],[769,45],[771,60],[773,40],[775,38],[777,55],[779,39],[781,62],[783,38],[785,45],[787,36],[789,58],[791,37],[793,40],[795,35],[797,50],[799,36],[801,38],[803,34],[805,45],[807,32],[809,38],[811,30],[813,42],[815,29],[817,33],[819,28],[821,50],[823,28],[825,30],[827,26],[829,40],[831,27],[833,28],[835,25.5],[837,38],[839,26],[841,28],[843,25],[845,35],[847,25],[850,27],[853,24.5],[855,42],[857,24],[860,25],[863,23],[866,30],[869,23.5],[872,24],[875,22.5],[878,34],[881,22],[884,23],[887,21.5],[890,28],[893,21],[896,22],[899,20.5],[902,27],[905,20],[908,21],[911,19.5],[914,25],[917,19.5],[920,20],[923,19],[926,24],[929,19],[932,19.5],[935,18.5],[938,21],[941,18],[944,19],[947,17.5],[950,20],[953,17.5],[956,18],[960,17],[963,19],[966,16],[970,15.5],[973,18],[976,14],[979,16],[982,15],[985,16.5],[990,15.8],[995,16.5],[1000,16.2],[1005,17],[1010,18.5],[1015,21],[1018,24],[1020,22.5],[1023,25],[1026,23],[1030,25.5],[1033,24],[1036,25.5],[1040,25],[1043,27],[1046,26],[1049,30],[1051,28],[1053,31],[1055,28],[1057,26],[1059,14],[1061,22],[1063,27],[1065,25],[1067,16],[1069,12],[1071,14],[1073,11],[1075,20],[1077,11.5],[1080,13],[1083,11],[1085,18],[1087,11],[1090,12],[1093,10.5],[1095,20],[1097,11],[1100,12],[1103,10.5],[1106,22],[1108,11],[1111,13],[1114,10.5],[1118,24],[1120,11],[1123,12],[1126,10.8],[1129,19],[1131,11],[1134,12],[1137,10.5],[1140,28],[1142,11],[1145,13],[1148,10],[1151,18],[1153,11],[1156,12],[1159,10],[1162,20],[1164,11],[1167,10.5],[1170,25],[1172,11],[1175,12],[1178,10],[1181,18],[1183,11],[1186,10],[1189,26],[1191,10.5],[1194,12],[1197,9.5],[1200,14],[1203,9.5],[1206,20],[1208,10],[1211,12],[1214,10],[1217,22],[1219,10.5],[1222,13],[1225,9],[1228,18],[1230,9],[1233,14],[1236,8.5],[1238,16],[1240,9],[1242,15],[1244,12],[1246,20],[1248,13],[1250,22],[1253,14],[1256,26],[1258,20],[1261,30],[1264,25],[1267,33],[1270,26],[1273,31],[1276,22],[1279,30],[1282,25],[1285,32],[1288,27],[1291,30],[1294,24],[1297,31],[1300,27],[1303,29],[1306,25],[1309,30],[1312,31],[1315,27],[1318,30],[1321,28],[1324,29],[1327,22],[1329,26],[1331,22],[1334,29],[1338,30],[1342,29],[1346,28],[1350,29],[1355,28.5],[1360,28],[1365,27.5],[1370,27],[1375,27.2],[1380,26.5],[1390,25.5],[1400,24.5],[1410,23.8],[1420,23.2],[1430,22.5],[1440,22],[1450,21.3],[1460,20.8],[1470,20.2],[1480,19.6],[1490,19],[1500,18.5],[1510,17.8],[1520,17.3],[1530,16.8],[1540,16.3],[1550,15.9],[1560,15.3],[1570,14.9],[1580,14.4],[1590,14],[1600,13.5],[1610,13],[1620,12.6],[1630,12.2],[1640,11.8],[1650,11.4],[1660,11],[1670,10.6],[1680,10.2],[1690,9.9],[1695,8.5],[1697,17],[1699,9],[1701,17],[1703,8.5],[1710,9.3],[1720,9],[1730,8.7],[1740,8.3],[1745,6.8],[1750,8],[1760,7.7],[1770,7.4],[1780,7.1],[1790,6.9],[1800,6.6]];

const radCloudy1: Pt[] = [[521,127],[524,123],[526,127.5],[529,121],[531,118],[533,125],[536,127.5],[539,122],[541,126],[543,117],[545,124],[548,127.5],[550,120],[552,118],[554,125],[557,127.5],[559,119],[561,110],[563,119],[566,126.5],[569,122],[572,127],[575,117],[577,124.5],[580,127],[583,121],[586,116],[588,123],[590,113],[592,120],[595,126],[598,122],[601,126.5],[603,117],[605,123],[608,126],[610,120],[613,118],[615,124],[618,126],[620,121],[623,125],[626,123],[630,124.5],[635,125],[640,124.8],[650,124.2],[660,123.3],[670,122.2],[672,118.5],[674,122],[680,121.2],[690,120],[700,118.3],[705,117],[709,116],[712,112],[714,115],[716,111],[718,108],[720,116],[722,117.5],[724,106],[725,95],[727,113],[729,112],[731,98],[733,92],[735,113],[737,114],[739,103],[741,110],[743,112],[745,95],[747,110],[749,104],[751,92],[753,70],[755,100],[757,75],[759,78],[761,68],[763,85],[765,60],[767,70],[769,58],[771,91],[773,57],[775,56],[777,95],[779,55],[781,80],[783,54],[785,104],[787,53],[789,70],[791,52],[793,92],[795,51],[797,101],[799,50],[801,85],[803,49],[805,60],[807,48],[809,75],[811,47],[813,55],[815,46],[817,68],[819,46],[821,73],[823,45],[825,50],[827,44.5],[829,58],[831,44],[833,62],[835,43.5],[837,48],[839,43],[841,68],[843,43],[846,55],[849,42],[852,46],[855,83],[857,41],[860,46],[863,40],[866,58],[869,39.5],[872,44],[875,39],[878,56],[881,38],[884,42],[887,37.5],[890,60],[893,37],[896,45],[899,36],[902,50],[905,35.5],[908,42],[911,35],[914,44],[917,34.5],[920,40],[923,34],[926,48],[929,33.5],[932,38],[935,33],[938,43],[941,32.5],[944,36],[947,32],[950,45],[953,31.5],[956,35],[959,30.5],[962,38],[965,30],[968,33],[971,29],[974,35],[977,27.5],[980,28],[983,27],[987,28],[990,27.2],[995,27.5],[1000,28],[1005,29],[1008,31],[1011,33],[1014,32],[1016,47.5],[1018,32],[1021,33],[1024,41],[1026,33],[1029,33.5],[1032,38],[1034,33],[1037,34],[1040,33],[1043,37],[1046,35],[1049,38],[1051,35],[1053,37],[1055,36.5],[1058,33],[1060,30],[1062,34],[1064,28],[1067,46],[1069,24],[1071,27],[1073,22],[1075,25],[1078,21],[1081,22],[1084,20],[1087,30],[1089,20],[1092,21],[1095,19.5],[1098,36],[1100,19.5],[1103,20.5],[1106,19.5],[1109,35],[1111,19],[1114,20],[1117,19],[1120,34],[1122,19],[1125,20],[1128,19],[1131,40],[1133,19],[1135,18.5],[1137,51],[1139,18.5],[1142,20],[1145,18],[1148,38],[1150,18.5],[1153,19],[1156,18],[1159,35],[1161,18],[1164,20],[1167,18],[1170,32],[1172,18],[1174,47],[1176,18],[1179,22],[1182,17.5],[1185,30],[1187,48],[1189,18],[1192,20],[1195,17],[1198,42],[1200,17],[1203,22],[1206,16.5],[1209,35],[1211,17],[1214,40],[1216,16],[1219,25],[1222,16],[1226,44],[1228,16],[1231,22],[1234,15],[1237,28],[1240,16],[1243,30],[1246,20],[1249,38],[1252,24],[1255,34],[1258,28],[1261,39],[1264,30],[1267,37],[1270,32],[1273,38],[1276,29],[1279,35],[1282,30],[1285,36],[1288,31],[1291,34],[1294,30],[1297,35],[1300,31],[1303,33.5],[1306,30],[1309,33],[1312,34],[1315,31],[1318,33.5],[1321,31],[1324,33],[1327,28],[1330,31],[1333,30],[1336,31],[1340,30],[1343,29.5],[1346,30.5],[1350,29],[1355,28.5],[1360,28],[1365,27.5],[1370,27],[1375,27.2],[1380,26.5],[1390,25.5],[1400,24.5],[1410,23.8],[1418,23.3],[1420,28],[1422,23.2],[1430,22.5],[1436,22.1],[1438,33.5],[1440,22],[1450,21.3],[1460,20.8],[1470,20.2],[1480,19.6],[1490,19],[1500,18.5],[1510,17.8],[1520,17.3],[1530,16.8],[1538,16.4],[1540,24.5],[1542,16.2],[1550,15.9],[1560,15.3],[1570,14.9],[1576,14.6],[1578,22.5],[1580,14.4],[1590,14],[1600,13.5],[1610,13],[1616,12.8],[1618,17.5],[1620,12.6],[1630,12.2],[1640,11.8],[1646,11.5],[1648,15],[1650,11.4],[1652,11.3],[1654,19.5],[1656,11.2],[1660,11],[1670,10.6],[1680,10.2],[1690,9.9],[1695,9],[1697,17.5],[1699,9.5],[1701,17.5],[1703,9],[1710,9.3],[1717,9.1],[1719,13.3],[1721,9],[1730,8.7],[1740,8.3],[1750,8],[1760,7.7],[1770,7.4],[1780,7.1],[1790,6.9],[1800,6.7]];

// ---------------- Panel 5 : mean radiance 1800-3020 cm-1 ----------------
const radAll2: Pt[] = [[1800,7.05],[1802,7.2],[1804,6.9],[1806,7.1],[1808,6.8],[1810,7.0],[1812,6.7],[1814,6.4],[1816,6.6],[1818,6.3],[1820,6.6],[1823,6.65],[1826,6.5],[1829,6.4],[1832,6.3],[1835,6.2],[1838,6.25],[1840,6.05],[1843,6.1],[1846,5.9],[1848,6.0],[1850,5.6],[1852,5.8],[1854,5.4],[1856,5.7],[1858,5.5],[1860,5.7],[1863,5.75],[1866,5.6],[1869,5.5],[1872,5.3],[1874,4.9],[1876,5.3],[1878,4.6],[1880,5.1],[1882,5.4],[1885,5.2],[1888,5.3],[1891,4.9],[1893,4.3],[1895,5.0],[1897,4.9],[1900,3.8],[1902,4.6],[1904,4.95],[1907,4.9],[1910,4.6],[1913,4.8],[1916,4.7],[1919,4.4],[1922,4.6],[1925,3.5],[1927,2.9],[1929,3.2],[1931,4.4],[1933,3.5],[1935,4.35],[1937,4.3],[1940,3.0],[1942,4.2],[1945,2.4],[1947,3.6],[1949,4.0],[1951,2.6],[1953,3.9],[1955,4.05],[1957,3.0],[1959,4.0],[1961,2.2],[1963,2.8],[1965,1.6],[1967,2.4],[1969,1.8],[1971,3.6],[1973,3.7],[1975,1.9],[1977,3.4],[1979,1.4],[1981,2.5],[1983,3.5],[1985,1.3],[1987,2.6],[1989,3.3],[1991,1.7],[1993,2.4],[1995,3.2],[1997,1.2],[1999,2.9],[2001,3.2],[2003,1.5],[2005,3.0],[2007,1.1],[2009,2.7],[2011,3.1],[2013,1.1],[2015,2.6],[2017,0.8],[2019,2.3],[2021,3.0],[2023,1.0],[2025,2.6],[2027,0.75],[2029,1.9],[2031,2.9],[2033,0.8],[2035,2.2],[2037,0.7],[2039,2.1],[2041,2.8],[2043,0.75],[2045,2.2],[2047,0.62],[2049,1.9],[2051,2.6],[2053,0.7],[2055,2.0],[2057,0.6],[2059,1.8],[2061,2.7],[2063,0.65],[2065,2.0],[2067,0.55],[2069,1.7],[2071,2.4],[2073,0.6],[2075,1.8],[2077,0.5],[2079,1.5],[2081,2.2],[2083,0.55],[2085,1.7],[2087,0.5],[2089,1.4],[2091,2.2],[2093,0.5],[2095,1.5],[2097,0.42],[2099,1.2],[2101,1.8],[2103,0.45],[2105,1.3],[2107,0.42],[2109,1.1],[2111,1.7],[2113,0.45],[2115,1.2],[2117,0.4],[2119,1.0],[2121,1.5],[2123,0.42],[2125,1.1],[2127,0.38],[2130,0.9],[2133,1.4],[2136,0.42],[2139,1.0],[2142,0.4],[2145,1.3],[2148,0.38],[2151,0.9],[2154,0.35],[2157,1.2],[2160,0.33],[2163,0.9],[2166,0.4],[2169,1.2],[2172,0.42],[2175,1.0],[2178,0.45],[2181,1.15],[2184,0.5],[2187,1.0],[2190,0.6],[2193,1.15],[2196,0.72],[2199,1.1],[2202,0.85],[2205,1.2],[2208,0.95],[2211,1.25],[2214,1.05],[2217,1.3],[2220,1.15],[2223,1.05],[2225,0.78],[2227,1.05],[2230,1.2],[2235,1.3],[2240,1.36],[2245,1.38],[2250,1.37],[2260,1.34],[2270,1.3],[2280,1.25],[2290,1.2],[2300,1.16],[2310,1.11],[2320,1.07],[2330,1.03],[2340,0.99],[2350,0.96],[2360,0.93],[2370,0.9],[2380,0.87],[2385,0.85],[2388,0.75],[2390,0.55],[2393,0.42],[2397,0.36],[2400,0.33],[2410,0.29],[2420,0.26],[2430,0.24],[2440,0.22],[2450,0.2],[2460,0.18],[2470,0.16],[2480,0.15],[2490,0.13],[2500,0.12],[2520,0.11],[2540,0.1],[2560,0.095],[2580,0.09],[2600,0.085],[2620,0.08],[2640,0.08],[2660,0.075],[2680,0.07],[2700,0.07],[2720,0.07],[2740,0.065],[2760,0.06],[2780,0.06],[2800,0.055],[2840,0.05],[2880,0.045],[2920,0.04],[2960,0.035],[3000,0.035],[3018,0.035]];

const radCloudy2: Pt[] = [[1800,7.1],[1802,7.25],[1804,6.8],[1806,7.1],[1808,6.75],[1810,7.0],[1812,6.6],[1814,6.35],[1816,6.6],[1818,6.3],[1820,6.6],[1823,6.6],[1826,6.45],[1829,6.4],[1832,6.25],[1835,6.2],[1838,6.2],[1840,6.0],[1843,6.1],[1846,5.85],[1848,6.0],[1850,5.55],[1852,5.8],[1854,5.35],[1856,5.7],[1858,5.5],[1860,5.65],[1863,5.7],[1866,5.55],[1869,5.5],[1872,5.25],[1874,4.95],[1876,5.3],[1878,4.7],[1880,5.1],[1882,5.35],[1885,5.2],[1888,5.25],[1891,4.9],[1893,4.4],[1895,5.0],[1897,4.85],[1900,3.9],[1902,4.6],[1904,4.9],[1907,4.85],[1910,4.55],[1913,4.75],[1916,4.7],[1919,4.4],[1922,4.6],[1925,3.6],[1927,3.0],[1929,3.3],[1931,4.45],[1933,3.6],[1935,4.4],[1937,4.3],[1940,3.1],[1942,4.2],[1945,2.5],[1947,3.6],[1949,4.05],[1951,2.7],[1953,3.9],[1955,4.05],[1957,3.1],[1959,4.0],[1961,2.4],[1963,2.9],[1965,1.9],[1967,2.5],[1969,2.0],[1971,3.65],[1973,3.7],[1975,2.1],[1977,3.5],[1979,1.7],[1981,2.6],[1983,3.55],[1985,1.6],[1987,2.7],[1989,3.35],[1991,1.9],[1993,2.5],[1995,3.3],[1997,1.5],[1999,3.0],[2001,3.3],[2003,1.7],[2005,3.1],[2007,1.4],[2009,2.8],[2011,3.2],[2013,1.4],[2015,2.7],[2017,1.2],[2019,2.4],[2021,3.2],[2023,1.3],[2025,2.7],[2027,1.1],[2029,2.0],[2031,3.0],[2033,1.1],[2035,2.3],[2037,1.0],[2039,2.2],[2041,2.9],[2043,1.05],[2045,2.3],[2047,0.95],[2049,2.0],[2051,2.7],[2053,1.0],[2055,2.1],[2057,0.9],[2059,1.9],[2061,2.8],[2063,0.95],[2065,2.1],[2067,0.85],[2069,1.8],[2071,2.5],[2073,0.9],[2075,1.9],[2077,0.8],[2079,1.6],[2081,2.3],[2083,0.85],[2085,1.8],[2087,0.8],[2089,1.5],[2091,2.6],[2093,0.8],[2095,1.6],[2097,0.72],[2099,1.3],[2101,2.0],[2103,0.75],[2105,1.4],[2107,0.7],[2109,1.2],[2111,1.8],[2113,0.72],[2115,1.3],[2117,0.68],[2119,1.1],[2121,1.75],[2123,0.7],[2125,1.2],[2127,0.65],[2130,1.0],[2133,1.6],[2136,0.68],[2139,1.1],[2142,0.65],[2145,1.5],[2148,0.62],[2151,1.0],[2154,0.6],[2157,1.55],[2160,0.6],[2163,1.0],[2166,0.62],[2169,1.3],[2172,0.65],[2175,1.1],[2178,0.68],[2181,1.4],[2184,0.72],[2187,1.2],[2190,0.85],[2193,1.45],[2196,0.95],[2199,1.3],[2202,1.05],[2205,1.4],[2208,1.1],[2211,1.4],[2214,1.15],[2217,1.35],[2220,1.2],[2223,1.1],[2225,0.8],[2227,1.05],[2230,1.2],[2235,1.28],[2240,1.33],[2245,1.35],[2250,1.34],[2260,1.31],[2270,1.27],[2280,1.22],[2290,1.17],[2300,1.13],[2310,1.08],[2320,1.04],[2330,1.0],[2340,0.97],[2350,0.94],[2360,0.91],[2370,0.88],[2380,0.86],[2385,0.84],[2388,0.76],[2390,0.6],[2393,0.5],[2397,0.45],[2400,0.42],[2410,0.38],[2420,0.35],[2430,0.32],[2440,0.3],[2450,0.27],[2460,0.25],[2470,0.23],[2480,0.21],[2490,0.19],[2500,0.17],[2520,0.16],[2540,0.15],[2560,0.14],[2580,0.135],[2600,0.12],[2610,0.14],[2620,0.115],[2630,0.13],[2640,0.11],[2650,0.135],[2660,0.105],[2670,0.12],[2680,0.1],[2690,0.115],[2700,0.095],[2710,0.1],[2720,0.12],[2730,0.095],[2740,0.09],[2760,0.085],[2780,0.085],[2800,0.08],[2840,0.07],[2880,0.06],[2900,0.055],[2910,0.065],[2920,0.05],[2930,0.06],[2940,0.045],[2950,0.06],[2960,0.045],[2970,0.055],[2980,0.04],[2990,0.06],[3000,0.045],[3010,0.055],[3018,0.05]];

// ---------------- ticks / labels ----------------
const hourTicks = [0, 5, 10, 15, 20];
const bt1Ticks = [180, 200, 220, 240, 260, 280];
const bt2Ticks = [180, 200, 220, 240, 260, 280, 300];
const bt3Ticks = [270, 275, 280, 285, 290, 295, 300];
const wn1Ticks = [600, 800, 1000, 1200, 1400, 1600, 1800];
const wn2Ticks = [1800, 2000, 2200, 2400, 2600, 2800, 3000];
const rad1Ticks = [20, 40, 60, 80, 100, 120];
const rad2Ticks = [0, 1, 2, 3, 4, 5, 6, 7];
const nightHours: [number, number][] = [[0, 6.17], [22.67, 24]];

// ---------------- layout constants ----------------
const PAGE_W = 3825;
const PLOT_L = 375;
const PLOT_R = 3003;
const PLOT_H = 907;
const PAD_TOP = 100;
const CANVAS_H = 1190;
const AX_BLUE = "#0072BD";
const AX_DARK = "#262626";
const FONT = "'DejaVu Sans', 'Liberation Sans', sans-serif";

interface SeriesCfg { label: string; data: Pt[]; color: string; width: number; legendWidth?: number; marker?: boolean; }
interface PanelCfg {
  top: number; xMin: number; xMax: number; yMin: number; yMax: number;
  xTicks: number[]; yTicks: number[]; xTitle: string; yTitle: string;
  yTitleCenter: number; xTitleOffset: number; night: boolean;
  series: SeriesCfg[];
  legend: { x0: number; x1: number; textX: number; rows: number[] };
}

const panels: PanelCfg[] = [
  {
    top: 296, xMin: 0, xMax: 24, yMin: 175.6, yMax: 290.1, xTicks: hourTicks, yTicks: bt1Ticks,
    xTitle: "UTC hours on 20240729", yTitle: "AERI 985-900 cm⁻¹ (Window) BT", yTitleCenter: 217, xTitleOffset: 119, night: true,
    series: [
      { label: "85° WRT Nadir", data: bt85, color: "#A52A2A", width: 7, legendWidth: 7 },
      { label: "95° WRT Nadir", data: bt95, color: "#FFA500", width: 7, legendWidth: 7 },
      { label: "125° WRT Nadir", data: bt125, color: "#008000", width: 7, legendWidth: 7 },
      { label: "180° WRT Nadir", data: bt180, color: "#0000FF", width: 7, legendWidth: 7 },
    ],
    legend: { x0: 528, x1: 763, textX: 790, rows: [422, 489, 556.5, 624] },
  },
  {
    top: 1420, xMin: 0, xMax: 24, yMin: 167.5, yMax: 312, xTicks: hourTicks, yTicks: bt2Ticks,
    xTitle: "UTC hours on 20240729", yTitle: "Zenith BTs, K", yTitleCenter: 218, xTitleOffset: 118, night: true,
    series: [
      { label: "AERI 985-900 cm⁻¹ (Window)", data: bt180, color: "#0000FF", width: 5, legendWidth: 8 },
      { label: "AERI 2510-2515 cm⁻¹ (Window)", data: bt2510, color: "#ADD8E6", width: 3, legendWidth: 5 },
      { label: "AERI 2510-2515 cm⁻¹ isolated", data: bt2510Isolated, color: "#ADD8E6", width: 3.5, marker: true },
    ],
    legend: { x0: 1910, x1: 2143, textX: 2171, rows: [1506, 1571] },
  },
  {
    top: 2545, xMin: 0, xMax: 24, yMin: 267.36, yMax: 302.9, xTicks: hourTicks, yTicks: bt3Ticks,
    xTitle: "UTC hours on 20240729", yTitle: "Zenith BTs, K", yTitleCenter: 221, xTitleOffset: 118, night: true,
    series: [
      { label: "AERI 675-680 cm⁻¹ (Surf Air)", data: bt675, color: "#FFA500", width: 4, legendWidth: 8 },
      { label: "AERI 700-705 cm⁻¹", data: bt700, color: "#0000FF", width: 3, legendWidth: 8 },
      { label: "AERI 2295-2300 cm⁻¹ (Surf Air)", data: bt2295, color: "#A52A2A", width: 3, legendWidth: 4 },
      { label: "AERI 2282-2287 cm⁻¹", data: bt2282, color: "#ADD8E6", width: 3.5, legendWidth: 5 },
    ],
    legend: { x0: 594, x1: 827, textX: 855, rows: [2672, 2738, 2806, 2874] },
  },
  {
    top: 3670, xMin: 521, xMax: 1800, yMin: 0.54, yMax: 134.3, xTicks: wn1Ticks, yTicks: rad1Ticks,
    xTitle: "Wavenumber, cm⁻¹", yTitle: "Mean Radiance, mW/(m² sr cm⁻¹)", yTitleCenter: 221, xTitleOffset: 125, night: false,
    series: [
      { label: "Mean Radiance 0 to 24h UTC 20240729", data: radAll1, color: "#000000", width: 2.5, legendWidth: 4 },
      { label: "... cloudy", data: radCloudy1, color: "#FF0000", width: 2.5, legendWidth: 4 },
    ],
    legend: { x0: 1835, x1: 2064, textX: 2092, rows: [3736.5, 3793.7] },
  },
  {
    top: 4795, xMin: 1800, xMax: 3018, yMin: -0.33, yMax: 7.64, xTicks: wn2Ticks, yTicks: rad2Ticks,
    xTitle: "Wavenumber, cm⁻¹", yTitle: "Mean Radiance, mW/(m² sr cm⁻¹)", yTitleCenter: 267, xTitleOffset: 126, night: false,
    series: [
      { label: "Mean Radiance 0 to 24h UTC 20240729", data: radAll2, color: "#000000", width: 2.5, legendWidth: 4 },
      { label: "... cloudy", data: radCloudy2, color: "#FF0000", width: 2.5, legendWidth: 4 },
    ],
    legend: { x0: 1835, x1: 2064, textX: 2092, rows: [4860.6, 4917.8] },
  },
];

const toXY = (a: Pt[]) => a.map(([x, y]) => ({ x, y }));

function makePlugin(p: PanelCfg, canvasTop: number) {
  return {
    id: "matlabAxes",
    afterDatasetsDraw(chart: any) {
      const { ctx, chartArea: a, scales } = chart;
      const xs = scales.x, ys = scales.y;
      ctx.save();
      ctx.lineCap = "butt";
      // y ticks (inward)
      ctx.strokeStyle = AX_BLUE;
      ctx.lineWidth = 2.5;
      for (const v of p.yTicks) {
        const py = Math.round(ys.getPixelForValue(v)) + 0.5;
        ctx.beginPath(); ctx.moveTo(a.left, py); ctx.lineTo(a.left + 27, py); ctx.stroke();
      }
      // left & right axis lines
      ctx.beginPath(); ctx.moveTo(a.left, a.top); ctx.lineTo(a.left, a.bottom); ctx.stroke();
      ctx.beginPath(); ctx.moveTo(a.right, a.top); ctx.lineTo(a.right, a.bottom); ctx.stroke();
      // x ticks (inward) and x axis line
      ctx.strokeStyle = AX_DARK;
      for (const v of p.xTicks) {
        const px = Math.round(xs.getPixelForValue(v)) + 0.5;
        ctx.beginPath(); ctx.moveTo(px, a.bottom); ctx.lineTo(px, a.bottom - 27); ctx.stroke();
      }
      ctx.lineWidth = 3;
      ctx.beginPath(); ctx.moveTo(a.left, a.bottom); ctx.lineTo(a.right, a.bottom); ctx.stroke();
      // night shading (translucent, over everything in the axes)
      if (p.night) {
        ctx.fillStyle = "rgba(255,255,0,0.14)";
        for (const [t0, t1] of nightHours) {
          const x0 = xs.getPixelForValue(t0), x1 = xs.getPixelForValue(t1);
          ctx.fillRect(x0, a.top, x1 - x0, a.bottom - a.top + 7);
        }
      }
      ctx.restore();
    },
    afterDraw(chart: any) {
      const { ctx } = chart;
      ctx.save();
      ctx.font = `39px ${FONT}`;
      ctx.textBaseline = "middle";
      ctx.textAlign = "left";
      ctx.fillStyle = "#000000";
      const items = p.series.map((s, i) => ({ s, i })).filter((o) => !o.s.marker);
      items.forEach((o, k) => {
        const y = p.legend.rows[k] - canvasTop;
        ctx.strokeStyle = o.s.color;
        ctx.lineWidth = o.s.legendWidth || o.s.width;
        ctx.lineCap = "butt";
        ctx.beginPath(); ctx.moveTo(p.legend.x0, y); ctx.lineTo(p.legend.x1, y); ctx.stroke();
        ctx.fillText(chart.data.datasets[o.i].label, p.legend.textX, y + 2);
      });
      ctx.restore();
    },
  };
}

function PanelChart({ p }: { p: PanelCfg }) {
  const ref = useRef<HTMLCanvasElement | null>(null);
  const canvasTop = p.top - PAD_TOP;
  useEffect(() => {
    const canvas = ref.current;
    if (!canvas) return;
    const n = p.series.length;
    const datasets = p.series.map((s, i) =>
      s.marker
        ? {
            label: s.label, data: toXY(s.data), showLine: false, pointStyle: "crossRot",
            pointRadius: 9, pointBorderWidth: s.width, pointBorderColor: s.color, pointBackgroundColor: s.color,
            borderColor: s.color, backgroundColor: s.color, order: n - i,
          }
        : {
            label: s.label, data: toXY(s.data), borderColor: s.color, backgroundColor: s.color,
            borderWidth: s.width, pointRadius: 0, fill: false, tension: 0, spanGaps: false,
            borderJoinStyle: "round", borderCapStyle: "round", order: n - i,
          }
    );
    const tickFont = { family: FONT, size: 38 };
    const titleFont = { family: FONT, size: 46 };
    const chart = new Chart(canvas, {
      type: "line",
      data: { datasets } as any,
      options: {
        animation: false,
        responsive: false,
        devicePixelRatio: 1,
        events: [],
        layout: { padding: { top: PAD_TOP, left: 0, right: PAGE_W - PLOT_R, bottom: 0 } },
        plugins: { legend: { display: false }, tooltip: { enabled: false }, title: { display: false } },
        scales: {
          x: {
            type: "linear", position: "bottom", min: p.xMin, max: p.xMax,
            grid: { display: false }, border: { display: false },
            ticks: { autoSkip: false, maxRotation: 0, minRotation: 0, padding: 27, color: AX_DARK, font: tickFont, callback: (v: any) => String(v) },
            afterBuildTicks: (s: any) => { s.ticks = p.xTicks.map((value) => ({ value })); },
            afterFit: (s: any) => { s.height = CANVAS_H - PAD_TOP - PLOT_H; },
            title: { display: true, text: p.xTitle, color: AX_DARK, font: titleFont, padding: { top: 0, bottom: CANVAS_H - PAD_TOP - PLOT_H - p.xTitleOffset - 27.6 } },
          },
          y: {
            type: "linear", position: "left", min: p.yMin, max: p.yMax,
            grid: { display: false }, border: { display: false },
            ticks: { padding: 29, color: AX_BLUE, font: tickFont, callback: (v: any) => String(v) },
            afterBuildTicks: (s: any) => { s.ticks = p.yTicks.map((value) => ({ value })); },
            afterFit: (s: any) => { s.width = PLOT_L; },
            title: { display: true, text: p.yTitle, color: AX_BLUE, font: titleFont, padding: { top: p.yTitleCenter - 27.6, bottom: 0 } },
          },
        },
      } as any,
      plugins: [makePlugin(p, canvasTop) as any],
    });
    return () => chart.destroy();
  }, []);
  return (
    <canvas
      ref={ref}
      width={PAGE_W}
      height={CANVAS_H}
      style={{ position: "absolute", left: 0, top: canvasTop, width: PAGE_W, height: CANVAS_H }}
    />
  );
}

export default function App() {
  return (
    <div style={{ position: "absolute", left: 0, top: 0, width: PAGE_W, height: 6000, background: "#ffffff", overflow: "hidden" }}>
      {panels.map((p, i) => (
        <PanelChart key={i} p={p} />
      ))}
    </div>
  );
}
